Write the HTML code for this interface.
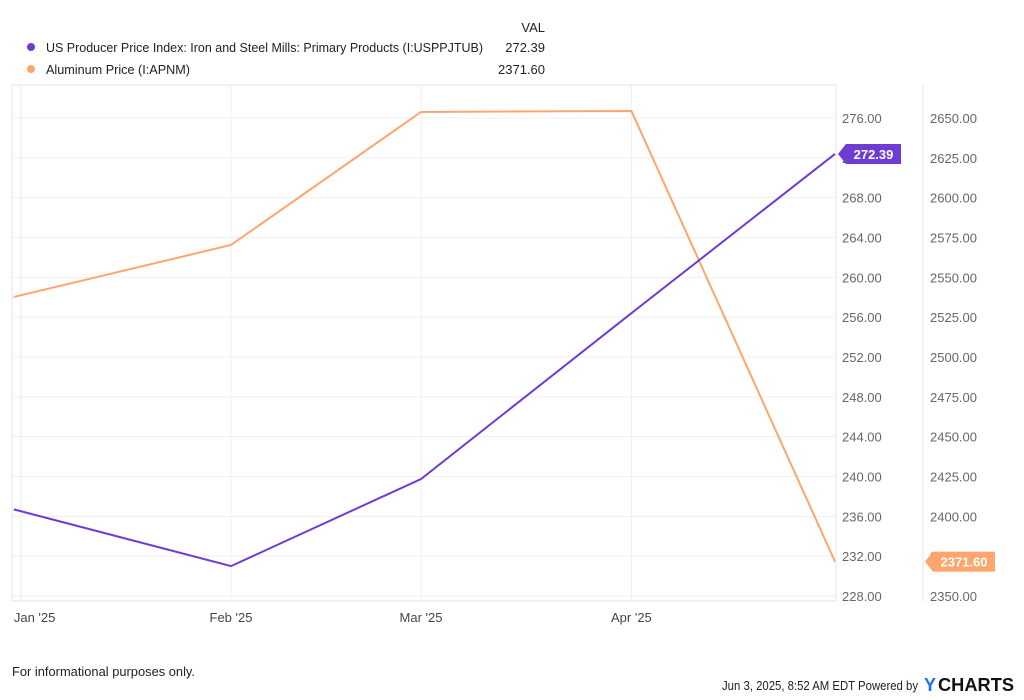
<!DOCTYPE html>
<html><head><meta charset="utf-8"><style>
body{margin:0;background:#fff;font-family:"Liberation Sans",sans-serif;}
#wrap{position:relative;width:1024px;height:700px;overflow:hidden;}
svg text{font-family:"Liberation Sans",sans-serif;}
</style></head><body>
<div id="wrap">
<svg id="chart" width="1024" height="700"></svg>
</div>
<script>
const dates=["2024-12-31","2025-02-01","2025-03-01","2025-04-01","2025-05-01"];
const ppiValues=[236.7,231.0,239.75,256.4,272.39];
const aluValues=[2537.7,2570.3,2653.8,2654.4,2371.6];
const leftTicks=[228,232,236,240,244,248,252,256,260,264,268,272,276];
const rightTicks=[2350,2375,2400,2425,2450,2475,2500,2525,2550,2575,2600,2625,2650];
const monthTicks=["2025-01-01","2025-02-01","2025-03-01","2025-04-01"];
const monthLabels=["Jan '25","Feb '25","Mar '25","Apr '25"];

const NS="http://www.w3.org/2000/svg";
const svg=document.getElementById('chart');
function mk(t,a,p){const e=document.createElementNS(NS,t);for(const k in a)e.setAttribute(k,a[k]);(p||svg).appendChild(e);return e;}
const L=12,R=836,T=85,B=601;
const fa=Date.parse("2025-02-01"),fb=Date.parse("2025-05-01");
const x=d=>231+(Date.parse(d)-fa)/(fb-fa)*604;
const yL=v=>596-(v-228)/48*478;
const yR=v=>596-(v-2350)/300*478;

let e=mk('rect',{x:L,y:T,width:R-L,height:B-T,fill:'none',stroke:'#e6e6ea'});

mk('line',{x1:923,y1:T,x2:923,y2:B,stroke:'#e6e6ea'});
leftTicks.forEach((v,i)=>{
 const y=yL(v);
 e=mk('line',{x1:L,y1:y,x2:R,y2:y,stroke:'#efeff3'});
 
 e=mk('text',{x:842,y:y+5,'font-size':13,fill:'#666'});e.textContent=v.toFixed(2);
 
});
rightTicks.forEach(v=>{
 const y=yR(v);
 e=mk('text',{x:930,y:y+5,'font-size':13,fill:'#666'});e.textContent=v.toFixed(2);
 
});
monthTicks.forEach((d,i)=>{
 const xx=x(d);
 e=mk('line',{x1:xx,y1:T,x2:xx,y2:B,stroke:'#efeff3'});
 
 e=mk('text',{x:xx+(i==0?14:0),y:622,'font-size':13,fill:'#444','text-anchor':'middle'});e.textContent=monthLabels[i];
 
});
function line(vals,sc,col,name){
 const p=mk('polyline',{points:vals.map((v,i)=>x(dates[i])+','+sc(v)).join(' '),fill:'none',stroke:col,'stroke-width':2,'clip-path':'url(#clp)'});
 
}
const cp=mk('clipPath',{id:'clp'});mk('rect',{x:L,y:T,width:R-L,height:B-T},cp);
line(aluValues,yR,'#fca66e','aluminum-line');
line(ppiValues,yL,'#6f3bd2','ppi-line');
function tag(y,col,txt,name,x0,w){
 const g=mk('g',{});
 mk('polygon',{points:`${x0},${y} ${x0+8},${y-10} ${x0+w},${y-10} ${x0+w},${y+10} ${x0+8},${y+10}`,fill:col},g);
 const t=mk('text',{x:x0+8+(w-8)/2,y:y+5,'font-size':13,'font-weight':'bold',fill:'#fff','text-anchor':'middle'},g);t.textContent=txt;
}
tag(yL(ppiValues[4]),'#6f3bd2',ppiValues[4].toFixed(2),'ppi-value-tag',838,63);
tag(yR(aluValues[4]),'#fca66e',aluValues[4].toFixed(2),'aluminum-value-tag',925,70);
e=mk('text',{x:545,y:32,'font-size':13,fill:'#222','text-anchor':'end'});e.textContent='VAL';

[[ '#6f3bd2','US Producer Price Index: Iron and Steel Mills: Primary Products (I:USPPJTUB)','272.39',52,437],
 ['#fca66e','Aluminum Price (I:APNM)','2371.60',74,144]].forEach((r,i)=>{
 const g=mk('g',{});
 mk('circle',{cx:31,cy:r[3]-5,r:4,fill:r[0]},g);
 let t=mk('text',{x:46,y:r[3],'font-size':13,fill:'#222',textLength:r[4],lengthAdjust:'spacingAndGlyphs'},g);t.textContent=r[1];
 t=mk('text',{x:545,y:r[3],'font-size':13,fill:'#222','text-anchor':'end'},g);t.textContent=r[2];
});
e=mk('text',{x:12,y:676,'font-size':13,fill:'#222',textLength:183,lengthAdjust:'spacingAndGlyphs'});e.textContent='For informational purposes only.';

e=mk('text',{x:722,y:690,'font-size':13,fill:'#222',textLength:196,lengthAdjust:'spacingAndGlyphs'});e.textContent='Jun 3, 2025, 8:52 AM EDT Powered by';

const g=mk('g',{});
let t=mk('text',{x:924,y:691,'font-size':18,'font-weight':'bold',fill:'#1a73e8'},g);t.textContent='Y';
t=mk('text',{x:938,y:691,'font-size':18,'font-weight':'bold',fill:'#111',textLength:76,lengthAdjust:'spacingAndGlyphs'},g);t.textContent='CHARTS';
</script>
</body></html>
